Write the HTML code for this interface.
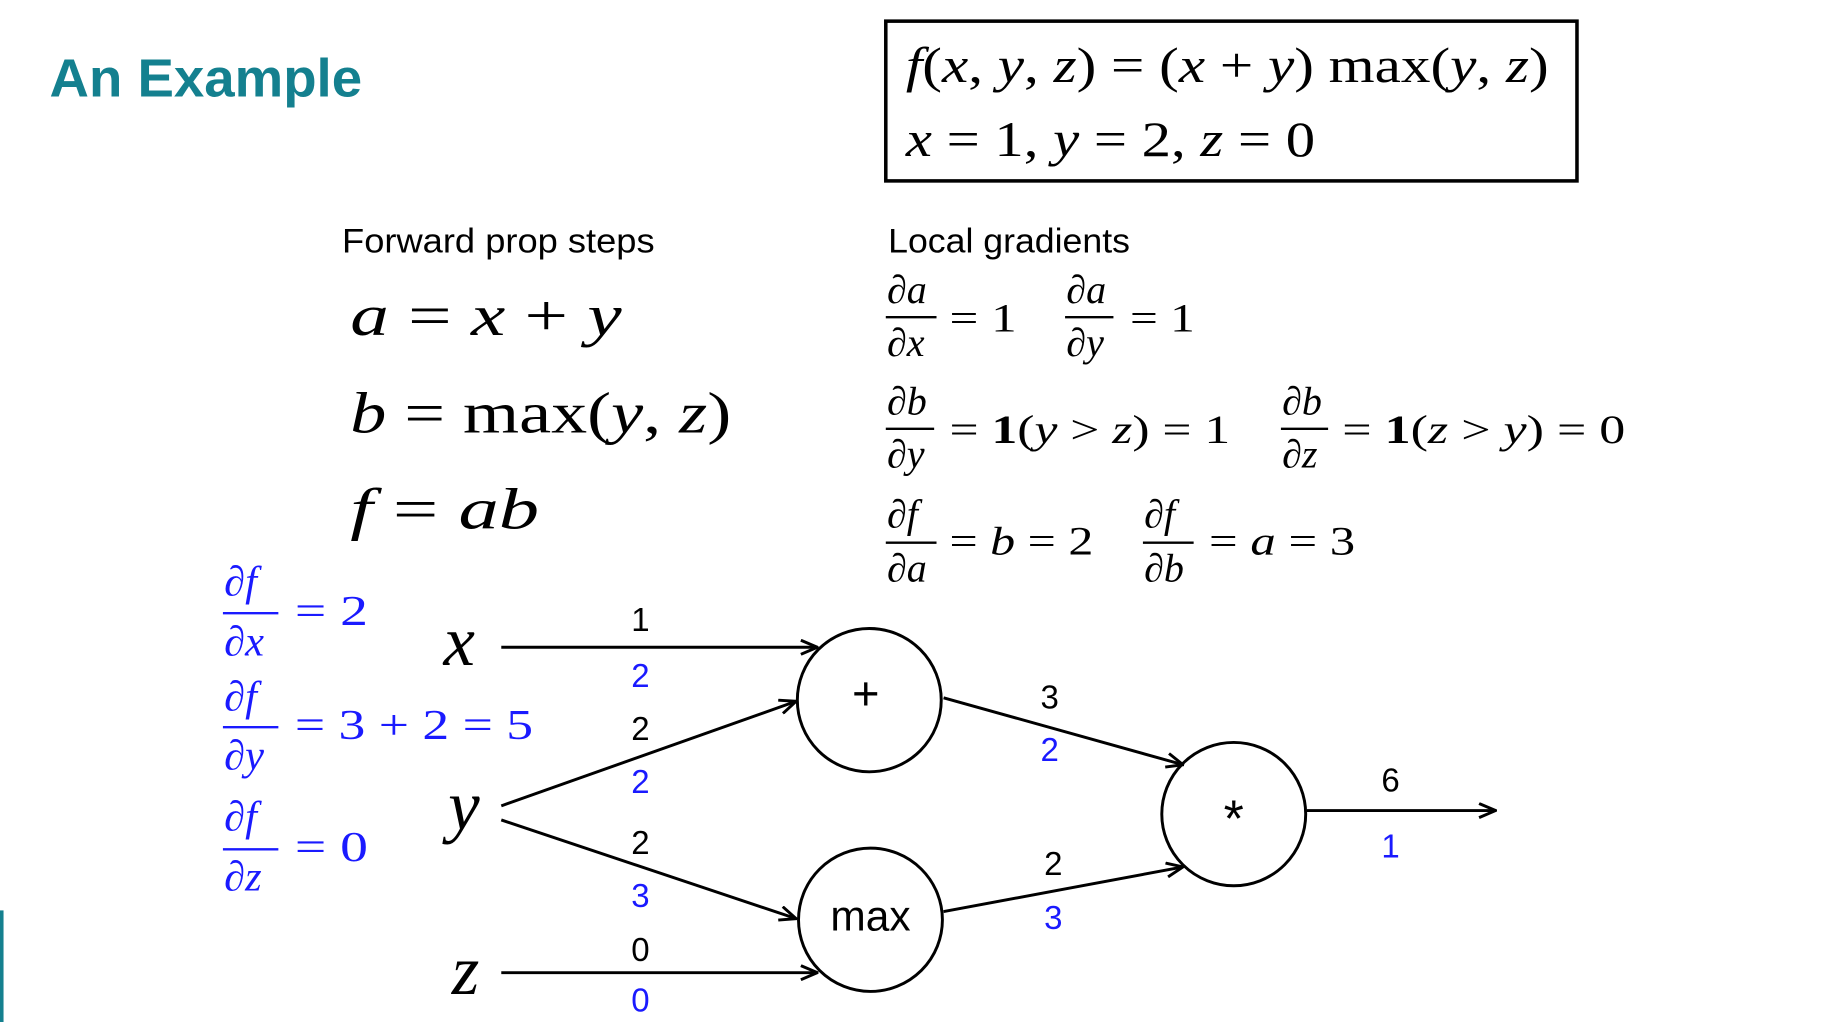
<!DOCTYPE html>
<html><head><style>html,body{margin:0;padding:0;background:#fff;overflow:hidden}</style></head><body>
<svg width="1840" height="1022" viewBox="0 0 1560 870" preserveAspectRatio="none" xmlns="http://www.w3.org/2000/svg">
<defs><marker id="ar" markerWidth="16" markerHeight="14" refX="15" refY="7" orient="auto" markerUnits="userSpaceOnUse"><path d="M1,1 L15,7 L1,13" fill="none" stroke="#000" stroke-width="2.5"/></marker></defs>
<rect x="0" y="775" width="3" height="95" fill="#14808f"/>
<text x="42" y="82" font-family="Liberation Sans, sans-serif" font-weight="bold" font-size="46" fill="#14808f" textLength="265" lengthAdjust="spacingAndGlyphs">An Example</text>
<rect x="751" y="18" width="586" height="136" fill="none" stroke="#000" stroke-width="3"/>
<g font-family="Liberation Serif, serif" font-size="42" fill="#000">
<text x="768" y="70" textLength="545" lengthAdjust="spacingAndGlyphs"><tspan font-style="italic">f</tspan>(<tspan font-style="italic">x</tspan>, <tspan font-style="italic">y</tspan>, <tspan font-style="italic">z</tspan>) = (<tspan font-style="italic">x</tspan> + <tspan font-style="italic">y</tspan>) max(<tspan font-style="italic">y</tspan>, <tspan font-style="italic">z</tspan>)</text>
<text x="768" y="133" textLength="347" lengthAdjust="spacingAndGlyphs"><tspan font-style="italic">x</tspan> = 1, <tspan font-style="italic">y</tspan> = 2, <tspan font-style="italic">z</tspan> = 0</text>
</g>
<g font-family="Liberation Sans, sans-serif" font-size="29" fill="#000">
<text x="290" y="215" textLength="265" lengthAdjust="spacingAndGlyphs">Forward prop steps</text>
<text x="753" y="215" textLength="205" lengthAdjust="spacingAndGlyphs">Local gradients</text>
</g>
<g font-family="Liberation Serif, serif" font-size="50" fill="#000">
<text x="297" y="285" textLength="230" lengthAdjust="spacingAndGlyphs"><tspan font-style="italic">a</tspan> = <tspan font-style="italic">x</tspan> + <tspan font-style="italic">y</tspan></text>
<text x="297" y="368" textLength="323" lengthAdjust="spacingAndGlyphs"><tspan font-style="italic">b</tspan> = max(<tspan font-style="italic">y</tspan>, <tspan font-style="italic">z</tspan>)</text>
<text x="297" y="450" textLength="160" lengthAdjust="spacingAndGlyphs"><tspan font-style="italic">f</tspan> = <tspan font-style="italic">ab</tspan></text>
</g>
<g font-family="Liberation Serif, serif" font-size="34" fill="#000" font-style="italic">
<text x="752" y="258">∂a</text><line x1="751" y1="270" x2="794" y2="270" stroke="#000" stroke-width="2"/><text x="752" y="303">∂x</text>
<text x="805" y="282" font-style="normal" textLength="57" lengthAdjust="spacingAndGlyphs">= 1</text>
<text x="904" y="258">∂a</text><line x1="903" y1="270" x2="944" y2="270" stroke="#000" stroke-width="2"/><text x="904" y="303">∂y</text>
<text x="958" y="282" font-style="normal" textLength="55" lengthAdjust="spacingAndGlyphs">= 1</text>
<text x="752" y="353">∂b</text><line x1="751" y1="365" x2="792" y2="365" stroke="#000" stroke-width="2"/><text x="752" y="398">∂y</text>
<text x="805" y="377" font-style="normal" textLength="238" lengthAdjust="spacingAndGlyphs">= <tspan font-weight="bold">1</tspan>(<tspan font-style="italic">y</tspan> &gt; <tspan font-style="italic">z</tspan>) = 1</text>
<text x="1087" y="353">∂b</text><line x1="1086" y1="365" x2="1126" y2="365" stroke="#000" stroke-width="2"/><text x="1087" y="398">∂z</text>
<text x="1138" y="377" font-style="normal" textLength="240" lengthAdjust="spacingAndGlyphs">= <tspan font-weight="bold">1</tspan>(<tspan font-style="italic">z</tspan> &gt; <tspan font-style="italic">y</tspan>) = 0</text>
<text x="752" y="449">∂f</text><line x1="751" y1="462" x2="794" y2="462" stroke="#000" stroke-width="2"/><text x="752" y="495">∂a</text>
<text x="805" y="472" font-style="normal" textLength="122" lengthAdjust="spacingAndGlyphs">= <tspan font-style="italic">b</tspan> = 2</text>
<text x="970" y="449">∂f</text><line x1="969" y1="462" x2="1012" y2="462" stroke="#000" stroke-width="2"/><text x="970" y="495">∂b</text>
<text x="1025" y="472" font-style="normal" textLength="124" lengthAdjust="spacingAndGlyphs">= <tspan font-style="italic">a</tspan> = 3</text>
</g>
<g font-family="Liberation Serif, serif" font-size="36" fill="#1a1aff" font-style="italic">
<text x="190" y="507">∂f</text><line x1="189" y1="522" x2="236" y2="522" stroke="#1a1aff" stroke-width="2"/><text x="190" y="558">∂x</text>
<text x="250" y="532" font-style="normal" textLength="62" lengthAdjust="spacingAndGlyphs">= 2</text>
<text x="190" y="605">∂f</text><line x1="189" y1="619" x2="236" y2="619" stroke="#1a1aff" stroke-width="2"/><text x="190" y="655">∂y</text>
<text x="250" y="629" font-style="normal" textLength="202" lengthAdjust="spacingAndGlyphs">= 3 + 2 = 5</text>
<text x="190" y="707">∂f</text><line x1="189" y1="723" x2="236" y2="723" stroke="#1a1aff" stroke-width="2"/><text x="190" y="758">∂z</text>
<text x="250" y="733" font-style="normal" textLength="62" lengthAdjust="spacingAndGlyphs">= 0</text>
</g>
<g font-family="Liberation Serif, serif" font-size="60" font-style="italic" fill="#000">
<text x="376" y="566">x</text><text x="380" y="706">y</text><text x="383" y="846">z</text>
</g>
<g stroke="#000" stroke-width="2.5" fill="none">
<line x1="425" y1="551" x2="693" y2="551" marker-end="url(#ar)"/>
<line x1="425" y1="686" x2="675" y2="597" marker-end="url(#ar)"/>
<line x1="425" y1="698" x2="675" y2="782" marker-end="url(#ar)"/>
<line x1="425" y1="828" x2="693" y2="828" marker-end="url(#ar)"/>
<line x1="800" y1="594" x2="1003" y2="651" marker-end="url(#ar)"/>
<line x1="800" y1="776" x2="1003" y2="738" marker-end="url(#ar)"/>
<line x1="1108" y1="690" x2="1268" y2="690" marker-end="url(#ar)"/>
<circle cx="737" cy="596" r="61"/><circle cx="738" cy="783" r="61"/><circle cx="1046" cy="693" r="61"/>
</g>
<g font-family="Liberation Sans, sans-serif" text-anchor="middle" fill="#000">
<text x="734" y="604" font-size="40">+</text>
<text x="738" y="792" font-size="36">max</text>
<text x="1046" y="712" font-size="44">*</text>
</g>
<g font-family="Liberation Sans, sans-serif" font-size="28" text-anchor="middle">
<text x="543" y="537">1</text><text x="543" y="585" fill="#1a1aff">2</text>
<text x="543" y="630">2</text><text x="543" y="675" fill="#1a1aff">2</text>
<text x="543" y="727">2</text><text x="543" y="772" fill="#1a1aff">3</text>
<text x="543" y="818">0</text><text x="543" y="861" fill="#1a1aff">0</text>
<text x="890" y="603">3</text><text x="890" y="648" fill="#1a1aff">2</text>
<text x="893" y="745">2</text><text x="893" y="791" fill="#1a1aff">3</text>
<text x="1179" y="674">6</text><text x="1179" y="730" fill="#1a1aff">1</text>
</g>
</svg>
</body></html>
